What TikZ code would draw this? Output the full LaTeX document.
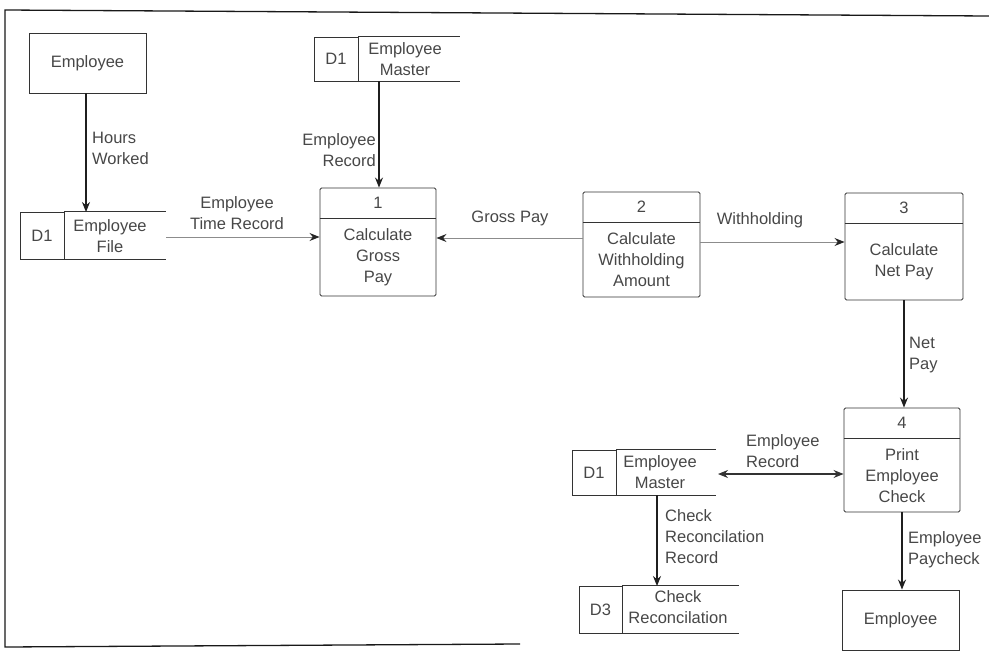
\documentclass[tikz,border=0pt]{standalone}
\usepackage{fontspec}
\setmainfont{Liberation Sans}
\usetikzlibrary{arrows.meta,calc}
\tikzset{
  txt/.style={text=black!72, inner sep=0pt, align=center},
  boxline/.style={draw=black!80, line width=0.9pt},
  procbox/.style={boxline, rectangle, rounded corners=1.5pt, inner sep=0pt},
  extbox/.style={boxline, rectangle, inner sep=0pt},
  idbox/.style={boxline, rectangle, inner sep=0pt, text=black!72},
  flow/.style={draw=black!88, line width=1.2pt, -{Stealth[length=10pt,width=8pt]}},
  hflow/.style={draw=black!45, line width=1pt, -{Stealth[length=10pt,width=8pt,color=black!85,fill=black!85]}},
  hflowboth/.style={draw=black!80, line width=1.1pt, {Stealth[length=10pt,width=8pt]}-{Stealth[length=10pt,width=8pt]}},
}
\newcommand\procnode[7]{%
  \node[procbox, minimum width=#4pt, minimum height=#5pt] (#1) at (#2,#3) {};
  \draw[boxline] ([yshift=-31pt]#1.north west) -- ([yshift=-31pt]#1.north east);
  \node[txt] (#1num) at ([yshift=-15.5pt]#1.north) {#6};
  \node[txt] (#1txt) at ($([yshift=-31pt]#1.north)!0.5!(#1.south)$) {#7};
}
\begin{document}
\begin{tikzpicture}[x=1pt,y=-1pt,font=\fontsize{16.5}{21}\selectfont]
\useasboundingbox (0,0) rectangle (989,653);
% frame
\draw[line width=1.3pt, black!90] (989,16) -- (5,10) -- (5,647) -- (520,644);

% external entities
\node[extbox, minimum width=117pt, minimum height=60pt] (emp1) at (87.5,63) {};
\node[txt] (emp1txt) at (emp1) {Employee};
\node[extbox, minimum width=117pt, minimum height=60pt] (emp2) at (900.5,620) {};
\node[txt] (emp2txt) at (emp2) {Employee};

% processes
\procnode{p1}{378}{242}{116}{108}{1}{Calculate\\Gross\\Pay}
\procnode{p2}{641.5}{244.5}{117}{105}{2}{Calculate\\Withholding\\Amount}
\procnode{p3}{904}{246.5}{118}{107}{3}{Calculate\\Net Pay}
\procnode{p4}{902}{460}{116}{104}{4}{Print\\Employee\\Check}

% data store D1 Employee File
\node[idbox, minimum width=44pt, minimum height=47pt] (s1id) at (42,235.5) {D1};
\draw[boxline] (s1id.north east) -- ++(102,0);
\draw[boxline] (s1id.south east) -- ++(102,0);
\node[txt] (s1) at (110,236) {Employee\\File};
\coordinate (s1n) at (86,212);
\coordinate (s1e) at (166,237);

% data store D1 Employee Master (top)
\node[idbox, minimum width=44pt, minimum height=44pt] (s2id) at (336,59) {D1};
\draw[boxline] (s2id.north east) -- ++(102,0);
\draw[boxline] (s2id.south east) -- ++(102,0);
\node[txt] (s2) at (405,59) {Employee\\Master};
\coordinate (s2s) at (379,81);

% data store D1 Employee Master (bottom)
\node[idbox, minimum width=44pt, minimum height=45pt] (s3id) at (594,472.5) {D1};
\draw[boxline] (s3id.north east) -- ++(100,0);
\draw[boxline] (s3id.south east) -- ++(100,0);
\node[txt] (s3) at (660,472) {Employee\\Master};
\coordinate (s3e) at (718,474);
\coordinate (s3s) at (657,495);

% data store D3 Check Reconcilation
\node[idbox, minimum width=43pt, minimum height=47pt] (s4id) at (600.5,609.5) {D3};
\draw[boxline] (s4id.north east) -- ++(117,0);
\draw[boxline] (s4id.south east) -- ++(117,0);
\node[txt] (s4) at (678,607) {Check\\Reconcilation};
\coordinate (s4n) at (657,586);

% flows
\draw[flow] (emp1.south -| s1n) -- (s1n);
\draw[hflow] (s1e) -- (s1e -| p1.west);
\draw[flow] (s2s) -- (s2s |- p1.north);
\draw[hflow] ([yshift=6.5pt]p2.west) -- ([yshift=6.5pt]p2.west -| p1.east);
\draw[hflow] ([yshift=2.5pt]p2.east) -- ([yshift=2.5pt]p2.east -| p3.west);
\draw[flow] (p3.south) -- (p3.south |- p4.north);
\draw[hflowboth] (s3e) -- (s3e -| p4.west);
\draw[flow] (s3s) -- (s4n);
\draw[flow] (p4.south) -- (p4.south |- emp2.north);

% labels
\node[txt, anchor=west, align=left] (l1) at (92,148) {Hours\\Worked};
\node[txt, anchor=east, align=right] (l2) at (376,150) {Employee\\Record};
\node[txt] (l3) at (237,213) {Employee\\Time Record};
\node[txt] (l4) at (510,218) {Gross Pay};
\node[txt] (l5) at (760,220) {Withholding};
\node[txt, anchor=west, align=left] (l6) at (909,355) {Net\\Pay};
\node[txt, anchor=west, align=left] (l7) at (746,451) {Employee\\Record};
\node[txt, anchor=west, align=left] (l8) at (665,537) {Check\\Reconcilation\\Record};
\node[txt, anchor=west, align=left] (l9) at (908,550) {Employee\\Paycheck};
\end{tikzpicture}
\end{document}
